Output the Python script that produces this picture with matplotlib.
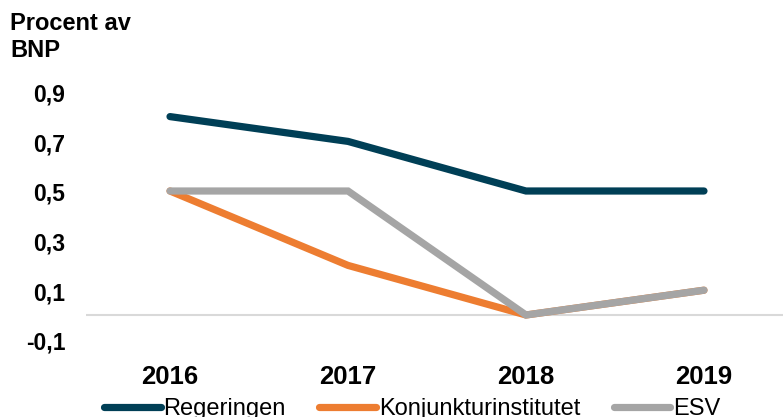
import matplotlib
matplotlib.use("Agg")
import matplotlib.pyplot as plt
import matplotlib.transforms as mtransforms
from matplotlib.ticker import FixedLocator, FuncFormatter

years = ["2016", "2017", "2018", "2019"]
regeringen = [0.8, 0.7, 0.5, 0.5]
konjunktur = [0.5, 0.2, 0.0, 0.1]
esv = [0.5, 0.5, 0.0, 0.1]
yticks = [-0.1, 0.1, 0.3, 0.5, 0.7, 0.9]

plt.rcParams['font.family'] = ['Liberation Sans', 'DejaVu Sans']

fig = plt.figure(figsize=(7.83, 4.17), dpi=100)
ax = fig.add_axes([86/783, 1-352.2/417, 697/783, 272.8/417])

x = list(range(len(years)))
kw = dict(lw=5.2, solid_capstyle='round', solid_joinstyle='miter')
ax.plot(x, regeringen, color='#003F56', label='Regeringen', **kw)
ax.plot(x, konjunktur, color='#ED7D31', label='Konjunkturinstitutet', **kw)
ax.plot(x, esv, color='#A5A5A5', label='ESV', **kw)

ax.axhline(0, color='#D9D9D9', lw=1.5, zorder=0)

ax.set_xlim(-0.472, 3.444)
ax.set_ylim(-0.15, 0.95)
ax.yaxis.set_major_locator(FixedLocator(yticks))
ax.yaxis.set_major_formatter(FuncFormatter(lambda v, p: f"{v:.1f}".replace('.', ',')))
ax.set_xticks(x)
ax.set_xticklabels(years)
for s in ax.spines.values():
    s.set_visible(False)
ax.tick_params(axis='y', length=0, pad=15, labelsize=16.5)
ax.tick_params(axis='x', length=0, pad=9, labelsize=18.5)
for t in ax.get_yticklabels() + ax.get_xticklabels():
    t.set_fontweight('bold')
offset = mtransforms.ScaledTranslation(0, -3.5/100, fig.dpi_scale_trans)
for t in ax.get_yticklabels():
    t.set_verticalalignment('center')
    t.set_transform(t.get_transform() + offset)

fig.text(10/783, 1-12/417, "Procent av\nBNP", ha='left', va='top',
         fontsize=17, fontweight='bold', linespacing=1.2)

leg = fig.legend(loc='lower left', bbox_to_anchor=(104/783, -0.008), ncol=3,
                 frameon=False, fontsize=17, handlelength=2.4, handletextpad=0.12,
                 columnspacing=1.42, borderaxespad=0, borderpad=0)

fig.savefig("out.png", dpi=100)
